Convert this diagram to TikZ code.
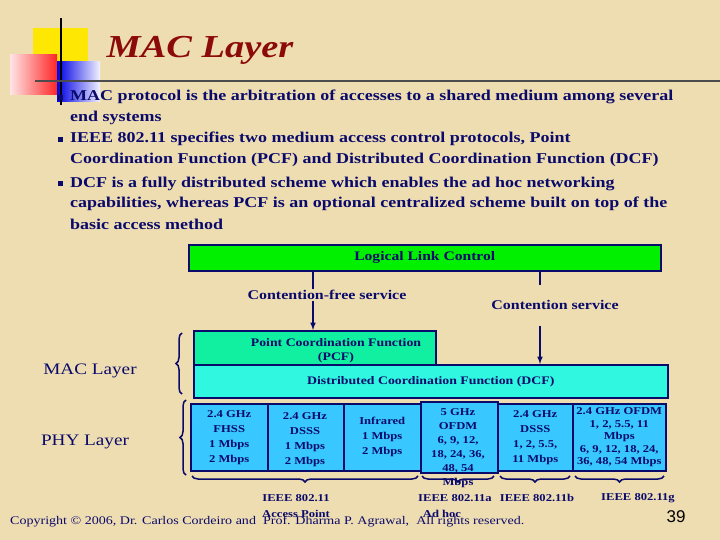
\documentclass[tikz,border=0pt]{standalone}
\usepackage{fontspec}
\setmainfont{Liberation Serif}[FakeStretch=1.2]
\usetikzlibrary{decorations.pathreplacing}
\definecolor{bg}{HTML}{EFDDB2}
\definecolor{navy}{HTML}{0A0A6A}
\definecolor{ttl}{HTML}{8B0A0A}
\definecolor{llc}{HTML}{00F000}
\definecolor{pcf}{HTML}{10F0A0}
\definecolor{dcf}{HTML}{30F8E0}
\definecolor{phy}{HTML}{38C8FF}
\begin{document}
\begin{tikzpicture}[x=1pt,y=-1pt,
  body/.style={anchor=west,inner sep=0,font=\bfseries\fontsize{15}{15}\selectfont,text=navy},
  bul/.style={fill=navy,minimum size=5pt,inner sep=0},
  box/.style={draw=navy,line width=1.5pt,inner sep=0,anchor=north west,font=\bfseries\fontsize{10.5}{15}\selectfont,text=navy,align=center},
  lab/.style={font=\bfseries\fontsize{10.5}{12}\selectfont,text=navy,inner sep=1pt},
  arr/.style={navy,line width=1.5pt,-latex},
  brc/.style={navy,line width=1.5pt,decorate,decoration={brace,amplitude=6pt}}]
\fill[bg] (0,0) rectangle (720,540);
\useasboundingbox (0,0) rectangle (720,540);
% logo
\fill[yellow!90!orange] (33,28) rectangle (88,76);
\shade[left color=red!10,right color=red!85] (10,55) rectangle (57,95);
\shade[left color=blue!90!black,right color=blue!5] (57,62) rectangle (100,102);
\draw[black,line width=1.5pt] (61,18) -- (61,105);
\draw[gray!60!black,line width=1.2pt] (35,81) -- (720,81);
\node[inner sep=0,font=\bfseries\itshape\fontsize{32}{32}\selectfont,text=ttl] (title) at (200,50) {MAC Layer};
% bullets
\node[bul] (b1) at (60,98) {};
\node[bul] (b2) at (60,140) {};
\node[bul] (b3) at (60,184) {};
\node[body] (l1) at (70,97) {MAC protocol is the arbitration of accesses to a shared medium among several};
\node[body] (l2) at (70,118) {end systems};
\node[body] (l3) at (70,139) {IEEE 802.11 specifies two medium access control protocols, Point};
\node[body] (l4) at (70,160) {Coordination Function (PCF) and Distributed Coordination Function (DCF)};
\node[body] (l5) at (70,184) {DCF is a fully distributed scheme which enables the ad hoc networking};
\node[body] (l6) at (70,204) {capabilities, whereas PCF is an optional centralized scheme built on top of the};
\node[body] (l7) at (70,224) {basic access method};
% diagram
\node[box,fill=llc,minimum width=472pt,minimum height=26pt,font=\bfseries\fontsize{13}{13}\selectfont] (llc) at (188,244) {Logical Link Control};
\node[box,fill=pcf,minimum width=242pt,minimum height=34pt] (pcf) at (193,330) {};
\node[lab,font=\bfseries\fontsize{11.5}{14}\selectfont,align=center] (pcft) at (336,351) {Point Coordination Function\\(PCF)};
\node[box,fill=dcf,minimum width=474pt,minimum height=33pt,font=\bfseries\fontsize{11.5}{12}\selectfont] (dcf) at (193,364) {Distributed Coordination Function (DCF)};
\node[lab,font=\bfseries\fontsize{13.3}{13}\selectfont] (cf) at (327,295) {Contention-free service};
\node[lab,font=\bfseries\fontsize{13.3}{13}\selectfont] (cs) at (555,305) {Contention service};
\draw[navy,line width=1.5pt] (313,270) -- (cf.north-|313,0);
\draw[arr] (cf.south-|313,0) -- (313,330);
\draw[navy,line width=1.5pt] (540,270) -- (540,285);
\draw[arr] (540,326) -- (540,364);
\node[inner sep=0,font=\fontsize{16}{16}\selectfont,text=navy] (mac) at (90,371) {MAC Layer};
\node[inner sep=0,font=\fontsize{16}{16}\selectfont,text=navy] (phyl) at (85,442) {PHY Layer};
\draw[brc] (182,394) -- (182,333);
\draw[brc] (186,475) -- (186,400);
% phy boxes
\node[box,fill=phy,minimum width=77pt,minimum height=67pt] (p1) at (190,403) {2.4 GHz\\FHSS\\1 Mbps\\2 Mbps};
\node[box,fill=phy,minimum width=76pt,minimum height=67pt] (p2) at (267,403) {};
\node[lab,font=\bfseries\fontsize{10.5}{15}\selectfont,align=center] (p2t) at (305,440) {2.4 GHz\\DSSS\\1 Mbps\\2 Mbps};
\node[box,fill=phy,minimum width=77pt,minimum height=67pt] (p3) at (343,403) {Infrared\\1 Mbps\\2 Mbps};
\node[box,fill=phy,minimum width=77pt,minimum height=71pt] (p4) at (420,401) {};
\node[lab,font=\bfseries\fontsize{10.5}{14}\selectfont,align=center] (p4t) at (458,448) {5 GHz\\OFDM\\6, 9, 12,\\18, 24, 36,\\48, 54\\Mbps};
\node[box,fill=phy,minimum width=75pt,minimum height=67pt] (p5) at (497,403) {2.4 GHz\\DSSS\\1, 2, 5.5,\\11 Mbps};
\node[box,fill=phy,minimum width=93pt,minimum height=67pt,font=\bfseries\fontsize{10.5}{12.5}\selectfont] (p6) at (572,403) {2.4 GHz OFDM\\1, 2, 5.5, 11\\Mbps\\6, 9, 12, 18, 24,\\36, 48, 54 Mbps};
\draw[brc] (418,476) -- (192,476);
\draw[brc] (494,476) -- (422,476);
\draw[brc] (570,476) -- (500,476);
\draw[brc] (664,476) -- (575,476);
\node[lab] (s1) at (296,498) {IEEE 802.11};
\node[lab] (s1b) at (296,514) {Access Point};
\node[lab] (s2) at (455,498) {IEEE 802.11a};
\node[lab] (s2b) at (442,514) {Ad hoc};
\node[lab] (s3) at (537,498) {IEEE 802.11b};
\node[lab] (s4) at (638,498) {IEEE 802.11g};
\node[anchor=west,inner sep=0,font=\fontsize{11.7}{12}\selectfont,text=navy] (copy) at (10,522) {Copyright © 2006, Dr. Carlos Cordeiro and \ Prof. Dharma P. Agrawal, \ All rights reserved.};
\node[inner sep=0,font=\fontsize{17}{17}\selectfont\fontspec{Liberation Sans},text=black] (pg) at (676,517) {39};
\end{tikzpicture}
\end{document}
